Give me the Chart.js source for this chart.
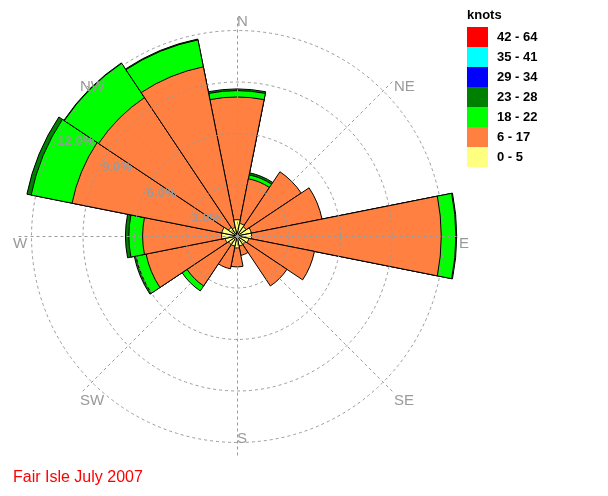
<!DOCTYPE html>
<html>
<head>
<meta charset="utf-8">
<title>Fair Isle July 2007</title>
<script src="https://cdn.jsdelivr.net/npm/chart.js@4.4.0/dist/chart.umd.min.js"></script>
<style>
  body { margin: 0; background: #fff; }
  canvas { display: block; }
</style>
</head>
<body>
<canvas id="windRose" width="608" height="496"></canvas>
<script>
// 16 compass sectors, clockwise from north
const directions = ['N', 'NNE', 'NE', 'ENE', 'E', 'ESE', 'SE', 'SSE', 'S', 'SSW', 'SW', 'WSW', 'W', 'WNW', 'NW', 'NNW'];

// % of observations in each sector, one list per speed band (knots)
const speed0to5   = [0.95, 0.75, 0.65, 0.85, 0.85, 0.7, 0.6, 0.6, 0.7, 0.6, 0.6, 0.7, 0.9, 0.9, 0.6, 0.5];
const speed6to17  = [7.15, 2.65, 3.85, 4.2, 11.05, 3.9, 2.9, 0.55, 1.1, 1.35, 2.9, 4.7, 4.6, 8.9, 9.1, 9.55];
const speed18to22 = [0.37, 0.23, 0, 0, 0.85, 0, 0, 0, 0, 0, 0.35, 0.6, 0.8, 2.43, 2.4, 1.6];
const speed23to28 = [0.1, 0.12, 0, 0, 0.05, 0, 0, 0, 0, 0, 0, 0.1, 0.2, 0.25, 0.03, 0.05];
const speed29to34 = [0, 0, 0, 0, 0, 0, 0, 0, 0, 0, 0, 0, 0, 0, 0, 0];
const speed35to41 = [0, 0, 0, 0, 0, 0, 0, 0, 0, 0, 0, 0, 0, 0, 0, 0];
const speed42to64 = [0, 0, 0, 0, 0, 0, 0, 0, 0, 0, 0, 0, 0, 0, 0, 0];

// speed bands, lowest first
const bandLabels = ['0 - 5', '6 - 17', '18 - 22', '23 - 28', '29 - 34', '35 - 41', '42 - 64'];
const bandColors = ['#ffff80', '#ff8040', '#00ff00', '#008000', '#0000ff', '#00ffff', '#ff0000'];
const bands = [speed0to5, speed6to17, speed18to22, speed23to28, speed29to34, speed35to41, speed42to64];

// rings, ring labels and other texts
const ringValues = [3, 6, 9, 12];
const ringLabels = ['3.0%', '6.0%', '9.0%', '12.0%'];
const compassLabels = ['N', 'NE', 'E', 'SE', 'S', 'SW', 'W', 'NW'];
const calmLabel = '1.5%';
const legendTitle = 'knots';
const chartTitle = 'Fair Isle July 2007';

const FONT = '"Liberation Sans", Arial, sans-serif';
const GREY = '#9a9a9a';

// stacked bars: each band is drawn from the centre out to its running total,
// lower bands are drawn on top of the higher ones
function cumulative (k) {
    return directions.map((d, i) => {
        if (k > 0 && bands[k][i] === 0) { return 0; }
        let total = 0;
        for (let j = 0; j <= k; j++) { total += bands[j][i]; }
        return total;
    });
}

const datasets = bands.map((b, k) => ({
    label: bandLabels[k],
    data: cumulative(k),
    backgroundColor: bandColors[k],
    borderColor: '#000',
    borderWidth: 1
}));

// grid, compass lines, labels, legend and title
const roseDecor = {
    id: 'roseDecor',
    beforeDatasetsDraw (chart) {
        const s = chart.scales.r, ctx = chart.ctx;
        ctx.save();
        ctx.fillStyle = GREY;
        ctx.font = 'bold 13px ' + FONT;
        ctx.textBaseline = 'top';
        ctx.fillText(calmLabel, s.xCenter - 2, s.yCenter + 2);
        ctx.restore();
    },
    afterDatasetsDraw (chart) {
        const s = chart.scales.r, ctx = chart.ctx;
        const cx = s.xCenter, cy = s.yCenter;
        ctx.save();
        ctx.strokeStyle = GREY;
        ctx.lineWidth = 1;
        ctx.setLineDash([3, 3]);
        ringValues.forEach((v) => {
            ctx.beginPath();
            ctx.arc(cx + 0.5, cy + 0.5, s.getDistanceFromCenterForValue(v), 0, Math.PI * 2);
            ctx.stroke();
        });
        const lineLen = 222;
        compassLabels.forEach((lab, i) => {
            const a = i * Math.PI / 4;
            ctx.beginPath();
            ctx.moveTo(cx + 0.5, cy + 0.5);
            ctx.lineTo(cx + 0.5 + lineLen * Math.sin(a), cy + 0.5 - lineLen * Math.cos(a));
            ctx.stroke();
        });
        ctx.setLineDash([]);

        // compass labels
        ctx.fillStyle = GREY;
        ctx.font = '15px ' + FONT;
        ctx.textBaseline = 'top';
        compassLabels.forEach((lab, i) => {
            const a = i * Math.PI / 4;
            let x = cx + lineLen * Math.sin(a);
            let y = cy - lineLen * Math.cos(a);
            if (lab === 'S') { y -= 27; }
            if (lab === 'W') { x -= 2; }
            ctx.fillText(lab, x, y);
        });

        // ring labels along the WNW ray
        ctx.font = 'bold 13px ' + FONT;
        const ray = -60 * Math.PI / 180;
        ringValues.forEach((v, i) => {
            const r = s.getDistanceFromCenterForValue(v);
            ctx.fillText(ringLabels[i], cx + r * Math.sin(ray) - 1, cy - r * Math.cos(ray) + 2);
        });

        // legend, highest band on top
        ctx.fillStyle = '#000';
        ctx.font = 'bold 13px ' + FONT;
        ctx.fillText(legendTitle, 467, 9);
        ctx.textBaseline = 'middle';
        for (let k = bands.length - 1, row = 0; k >= 0; k--, row++) {
            const y = 27 + row * 20;
            ctx.fillStyle = bandColors[k];
            ctx.fillRect(467, y, 21, 20);
            ctx.fillStyle = '#000';
            ctx.fillText(bandLabels[k], 497, y + 10);
        }

        // title
        ctx.fillStyle = '#ff0000';
        ctx.font = '16px ' + FONT;
        ctx.textBaseline = 'alphabetic';
        ctx.fillText(chartTitle, 13, 482);
        ctx.restore();
    }
};

const windRose = new Chart('windRose', {
    type: 'polarArea',
    data: { labels: directions, datasets: datasets },
    options: {
        responsive: false,
        animation: false,
        layout: { padding: { left: 7, right: 141, top: 6, bottom: 30 } },
        scales: {
            r: {
                min: 0,
                max: 13.4,
                startAngle: -11.25,
                ticks: { display: false },
                grid: { display: false },
                angleLines: { display: false },
                pointLabels: { display: false }
            }
        },
        plugins: {
            legend: { display: false },
            tooltip: { enabled: false }
        }
    },
    plugins: [roseDecor]
});
</script>
</body>
</html>
